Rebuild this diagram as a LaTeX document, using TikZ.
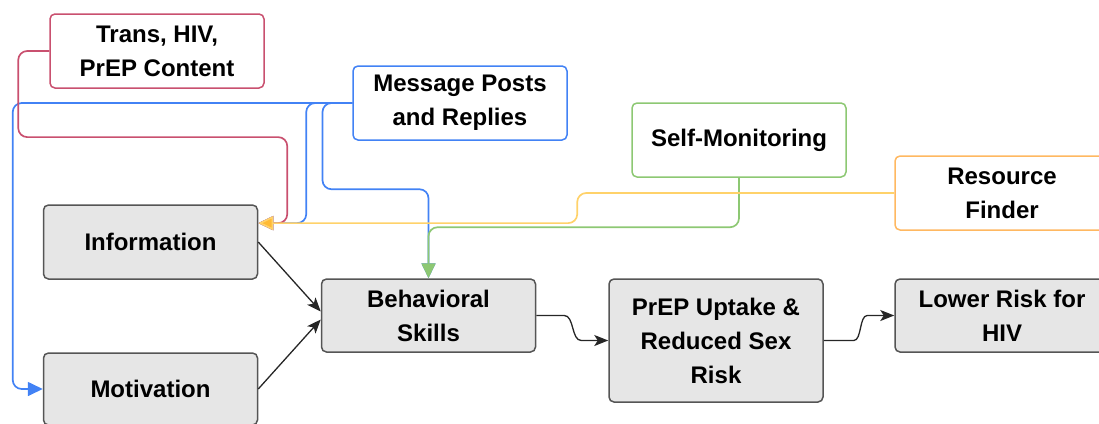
\documentclass[tikz,border=0pt]{standalone}
\usepackage{fontspec}
\setmainfont{Liberation Sans}
\usetikzlibrary{arrows.meta,calc}
\definecolor{boxfill}{HTML}{E6E6E6}
\definecolor{boxline}{HTML}{555555}
\definecolor{redc}{HTML}{C9506F}
\definecolor{bluec}{HTML}{4282F5}
\definecolor{greenc}{HTML}{8DC873}
\definecolor{orangebox}{HTML}{FFB861}
\definecolor{orangeln}{HTML}{FFD26A}
\definecolor{orangetip}{HTML}{FFBA35}
\definecolor{blk}{HTML}{262626}
\tikzset{
  gbox/.style={draw=boxline, fill=boxfill, rounded corners=5pt, line width=1.5pt,
    minimum width=214pt, minimum height=74pt, inner sep=0pt, align=center,
    font=\fontsize{24}{34}\selectfont\bfseries},
  cbox/.style={draw=#1, fill=white, rounded corners=5pt, line width=1.5pt,
    minimum width=214pt, minimum height=74pt, inner sep=0pt, align=center,
    font=\fontsize{24}{34}\selectfont\bfseries},
  link/.style={draw=#1, line width=1.7pt, rounded corners=9pt,
    -{Triangle[length=15pt,width=14pt,fill=#1]}},
  blkarrow/.style={draw=blk, line width=1.3pt,
    -{Stealth[length=14pt,width=11pt,inset=3.5pt]}}
}
\begin{document}
\begin{tikzpicture}[x=1pt,y=-1pt]
\useasboundingbox (0,0) rectangle (1099,423);
\clip (0,0) rectangle (1099,423);
% nodes
\node[cbox=redc]      (trans) at (157,51)  {Trans, HIV,\\PrEP Content};
\node[cbox=bluec]     (msg)   at (460,103) {Message Posts\\and Replies};
\node[cbox=greenc]    (selfm) at (739,140) {Self-Monitoring};
\node[cbox=orangebox] (res)   at (1002,193) {Resource\\Finder};
\node[gbox]           (info)  at (150.5,242) {Information};
\node[gbox, minimum height=72pt] (motiv) at (150.5,389) {Motivation};
\node[gbox, minimum height=73pt] (beh)   at (428.5,315.5) {Behavioral\\Skills};
\node[gbox, minimum height=123pt] (prep) at (716,340.5) {PrEP Uptake \&\\Reduced Sex\\Risk};
\node[gbox, minimum height=73pt] (lower) at (1002,315.5) {Lower Risk for\\HIV};
\coordinate (infoR) at ($(info.north east)!0.25!(info.south east)$);
% blue connectors
\draw[link=bluec] (msg.west) -| ($(motiv.west)+(-30,0)$) -- (motiv.west);
\draw[link=bluec] (msg.west) -| ($(infoR)+(48,0)$) -- (infoR);
\draw[link=bluec] (msg.west) -| ($(beh.north)+(-106,-89)$) -| (beh.north);
% red connector
\draw[link=redc] (trans.west) -- ++(-31,0) |- ($(infoR)+(29,-86)$) |- (infoR);
% green connector
\draw[link=greenc] (selfm.south) |- ($(beh.north)+(0,-51)$) -- (beh.north);
% orange connector
\draw[draw=orangeln, line width=1.7pt, rounded corners=9pt,
  -{Triangle[length=15pt,width=14pt,fill=orangetip]}]
  (res.west) -| ($(infoR)+(319,0)$) -- (infoR);
% black arrows
\draw[blkarrow] (info.east) -- ($(beh.west)+(0,-4)$);
\draw[blkarrow] (motiv.east) -- ($(beh.west)+(0,4)$);
\draw[blkarrow] (beh.east) -- ++(28,0) .. controls +(10,0) and +(-10,0) .. ($(prep.west)+(-27,0)$) -- (prep.west);
\draw[blkarrow] (prep.east) -- ++(30,0) .. controls +(8,0) and +(-8,0) .. ($(lower.west)+(-27,0)$) -- (lower.west);
\end{tikzpicture}
\end{document}
